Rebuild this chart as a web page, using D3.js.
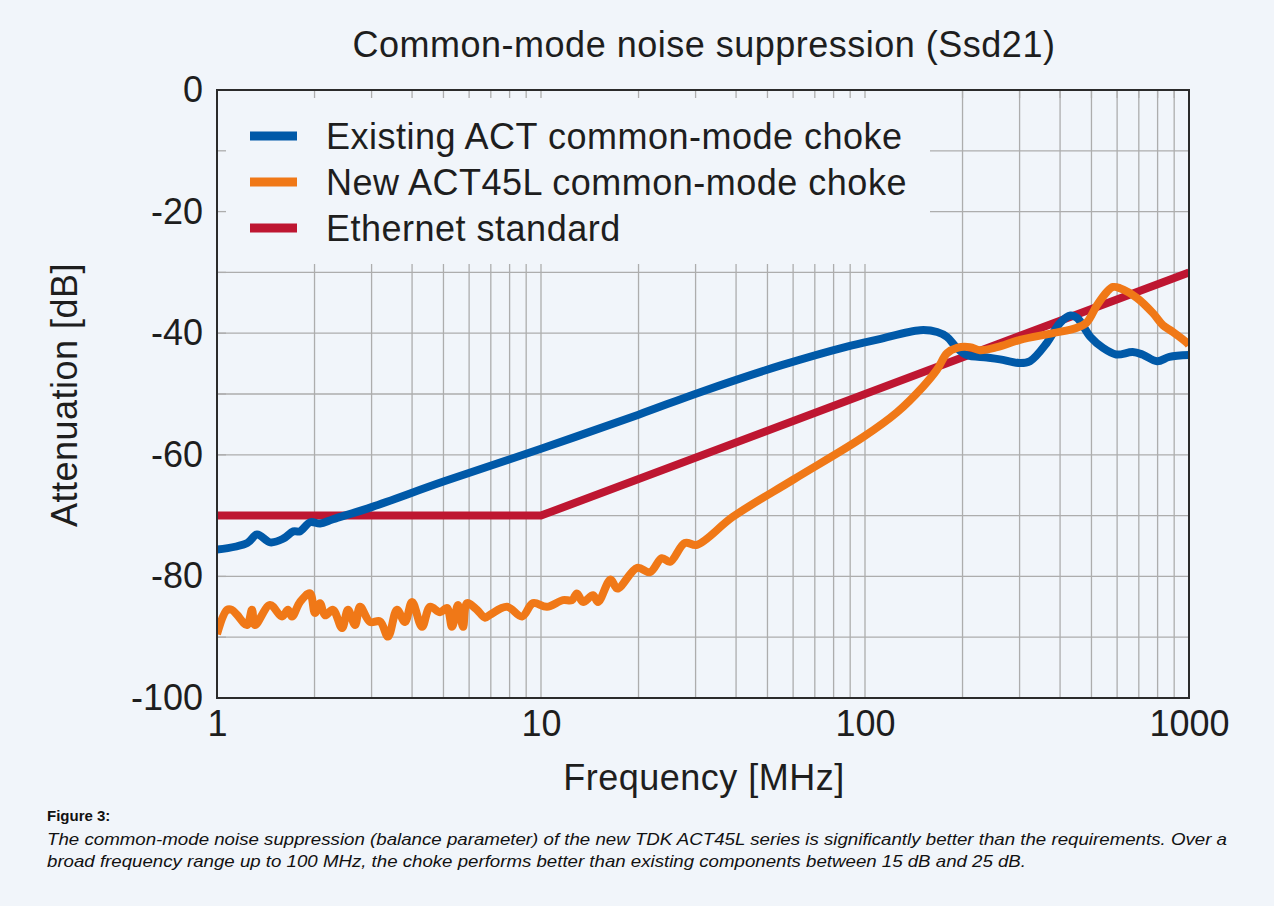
<!DOCTYPE html>
<html>
<head>
<meta charset="UTF-8">
<title>Common-mode noise suppression (Ssd21)</title>
<style>
	body {
		margin: 0;
		background: #f1f5fa;
		font-family: "Liberation Sans", Arial, Helvetica, sans-serif;
	}
	.grid line {
		stroke: #adadad;
		stroke-width: 1.3;
	}
	.tick-label {
		font-size: 36px;
		fill: #1e1e1e;
	}
	.big {
		font-size: 36px;
		letter-spacing: 0.5px;
		fill: #1e1e1e;
	}
	.series {
		fill: none;
		stroke-width: 8;
		stroke-linejoin: round;
		stroke-linecap: butt;
	}
</style>
</head>
<body>
<svg id="chart" width="1274" height="906"></svg>

<script src="https://d3js.org/d3.v7.min.js"></script>
<script>

	// frequency in MHz, attenuation in dB
	let existingFreq = [1, 1.24, 1.33, 1.46, 1.6, 1.72, 1.8, 1.94, 2.08, 2.28, 3, 5, 10, 20, 31, 55, 88, 110, 148, 167, 179, 192, 206, 238, 261, 300, 323, 364, 400, 431, 452, 496, 542, 596, 670, 718, 797, 870, 1000];
	let existingDb = [-75.6, -74.5, -73.1, -74.4, -73.8, -72.6, -72.6, -71.1, -71.3, -70.6, -68.6, -64.4, -59.0, -53.4, -49.7, -45.3, -42.2, -41.0, -39.5, -39.8, -40.6, -42.4, -43.6, -44.0, -44.3, -44.9, -44.6, -41.6, -38.3, -37.1, -37.5, -40.6, -42.4, -43.5, -43.1, -43.5, -44.6, -43.9, -43.6];

	let newFreq = [1, 1.074, 1.112, 1.152, 1.238, 1.282, 1.31, 1.457, 1.587, 1.656, 1.704, 1.804, 1.936, 2.006, 2.079, 2.154, 2.28, 2.431, 2.537, 2.667, 2.764, 2.967, 3.185, 3.372, 3.594, 3.804, 3.999, 4.293, 4.545, 4.879, 5.128, 5.314, 5.545, 5.746, 5.91, 6.346, 6.718, 6.961, 7.857, 8.739, 9.448, 10.43, 11.69, 12.46, 12.91, 13.48, 14.47, 15.0, 16.4, 17.2, 19.8, 21.7, 23.6, 25.0, 27.8, 30.3, 39.1, 60, 98.6, 125.6, 151, 166.8, 179.1, 192.3, 210.9, 226.5, 255.6, 300.8, 380.3, 451, 484, 520, 558, 583, 612, 691, 774, 831, 892, 986, 1000];
	let newDb = [-89.5, -85.5, -85.5, -86.3, -88, -85.5, -88, -84.7, -86.6, -85.5, -86.6, -84.2, -82.8, -86, -84.4, -86.4, -85.5, -88.5, -85.5, -88, -85, -87.5, -87.4, -89.9, -85.5, -87.5, -84.2, -88.3, -85, -85.9, -85.2, -88.3, -84.7, -88.3, -84.4, -85.5, -86.8, -86.3, -85, -86.6, -84.4, -85, -83.9, -83.9, -82.8, -84.2, -83.1, -84.2, -80.5, -82, -78.6, -79.3, -77, -77.6, -74.5, -74.8, -70.2, -64.1, -57.1, -53, -48.8, -46, -43.3, -42.4, -42.3, -42.8, -42.3, -41.1, -40, -39.1, -38.2, -35.4, -33.2, -32.4, -32.6, -34.2, -36.7, -38.7, -39.8, -41.6, -42];

	let standardFreq = [1, 10, 1000];
	let standardDb = [-70, -70, -30];

	let seriesNames = ["Existing ACT common-mode choke", "New ACT45L common-mode choke", "Ethernet standard"];
	let seriesColors = ["#0059a8", "#f07817", "#be1631"];

	let xTicks = [1, 10, 100, 1000];
	let yTicks = [0, -20, -40, -60, -80, -100];

	let chartTitle = "Common-mode noise suppression (Ssd21)";
	let xTitle = "Frequency [MHz]";
	let yTitle = "Attenuation [dB]";
	let captionHead = "Figure 3:";
	let captionLines = [
		"The common-mode noise suppression (balance parameter) of the new TDK ACT45L series is significantly better than the requirements. Over a",
		"broad frequency range up to 100 MHz, the choke performs better than existing components between 15 dB and 25 dB."
	];

	let pLeft = 217, pRight = 1189, pTop = 90, pBottom = 698;

	let svg = d3.select("#chart");

	let x = d3.scaleLog().domain([1, 1000]).range([pLeft, pRight]);
	let y = d3.scaleLinear().domain([-100, 0]).range([pBottom, pTop]);

	// gridlines
	let grid = svg.append("g").attr("class", "grid");
	grid.selectAll("line.v")
		.data(x.ticks())
		.enter()
		.append("line")
		.attr("x1", d => x(d)).attr("x2", d => x(d))
		.attr("y1", pTop).attr("y2", pBottom);
	grid.selectAll("line.h")
		.data(d3.range(-90, 0, 10))
		.enter()
		.append("line")
		.attr("x1", pLeft).attr("x2", pRight)
		.attr("y1", d => y(d)).attr("y2", d => y(d));

	// legend box hides the grid behind it
	svg.append("rect")
		.attr("x", pLeft).attr("y", pTop)
		.attr("width", 930 - pLeft).attr("height", 264 - pTop)
		.attr("fill", "#f1f5fa");

	// short ticks along top and left edge
	let ticks = svg.append("g").attr("class", "grid");
	ticks.selectAll("line.t")
		.data(x.ticks())
		.enter()
		.append("line")
		.attr("x1", d => x(d)).attr("x2", d => x(d))
		.attr("y1", pTop).attr("y2", pTop + 8);
	ticks.selectAll("line.l")
		.data(d3.range(-90, 0, 10))
		.enter()
		.append("line")
		.attr("x1", pLeft).attr("x2", pLeft + 9)
		.attr("y1", d => y(d)).attr("y2", d => y(d));

	// series
	svg.append("clipPath").attr("id", "plotClip")
		.append("rect")
		.attr("x", pLeft).attr("y", pTop)
		.attr("width", pRight - pLeft).attr("height", pBottom - pTop);

	let smoothLine = d3.line()
		.x(d => x(d[0]))
		.y(d => y(d[1]))
		.curve(d3.curveCatmullRom.alpha(0.5));
	let straightLine = d3.line()
		.x(d => x(d[0]))
		.y(d => y(d[1]));

	let seriesData = [
		d3.zip(existingFreq, existingDb),
		d3.zip(newFreq, newDb),
		d3.zip(standardFreq, standardDb)
	];

	// draw order: standard, existing, new
	[2, 0, 1].forEach(i => {
		svg.append("path")
			.datum(seriesData[i])
			.attr("class", "series")
			.attr("clip-path", "url(#plotClip)")
			.attr("stroke", seriesColors[i])
			.attr("d", i == 2 ? straightLine : smoothLine);
	});

	// frame
	svg.append("rect")
		.attr("x", pLeft).attr("y", pTop)
		.attr("width", pRight - pLeft).attr("height", pBottom - pTop)
		.attr("fill", "none")
		.attr("stroke", "#2b2b2b")
		.attr("stroke-width", 2);

	// axes labels, plain hyphen as minus
	let yAxis = d3.axisLeft(y).tickValues(yTicks).tickSize(0).tickPadding(14).tickFormat(d => String(d));
	let yG = svg.append("g").attr("transform", "translate(" + pLeft + ",0)").call(yAxis);
	yG.select(".domain").remove();
	yG.attr("font-family", null).attr("font-size", null);
	yG.selectAll("text").attr("class", "tick-label");

	let xAxis = d3.axisBottom(x).tickValues(xTicks).tickSize(0).tickPadding(12).tickFormat(d => String(d));
	let xG = svg.append("g").attr("transform", "translate(0," + pBottom + ")").call(xAxis);
	xG.select(".domain").remove();
	xG.attr("font-family", null).attr("font-size", null);
	xG.selectAll("text").attr("class", "tick-label");

	// titles
	svg.append("text")
		.attr("class", "big")
		.attr("x", 704).attr("y", 57)
		.attr("text-anchor", "middle")
		.text(chartTitle);

	svg.append("text")
		.attr("class", "big")
		.attr("x", 704).attr("y", 790)
		.attr("text-anchor", "middle")
		.text(xTitle);

	svg.append("text")
		.attr("class", "big")
		.attr("transform", "translate(77,395) rotate(-90)")
		.attr("text-anchor", "middle")
		.text(yTitle);

	// legend
	let legend = svg.append("g");
	seriesNames.forEach((name, i) => {
		let ly = 136 + i * 46;
		legend.append("line")
			.attr("x1", 250).attr("x2", 297)
			.attr("y1", ly).attr("y2", ly)
			.attr("stroke", seriesColors[i])
			.attr("stroke-width", 9);
		legend.append("text")
			.attr("class", "big")
			.attr("x", 326).attr("y", ly)
			.attr("dy", "0.36em")
			.text(name);
	});

	// caption
	svg.append("text")
		.attr("x", 47).attr("y", 821)
		.attr("font-size", 15)
		.attr("font-weight", "bold")
		.attr("fill", "#111")
		.text(captionHead);

	svg.selectAll("text.caption")
		.data(captionLines)
		.enter()
		.append("text")
		.attr("class", "caption")
		.attr("x", 47)
		.attr("y", (d, i) => 845 + i * 22)
		.attr("font-size", 16.5)
		.attr("font-style", "italic")
		.attr("fill", "#111")
		.attr("textLength", (d, i) => i == 0 ? 1180 : 979)
		.attr("lengthAdjust", "spacingAndGlyphs")
		.text(d => d);

</script>
</body>
</html>
